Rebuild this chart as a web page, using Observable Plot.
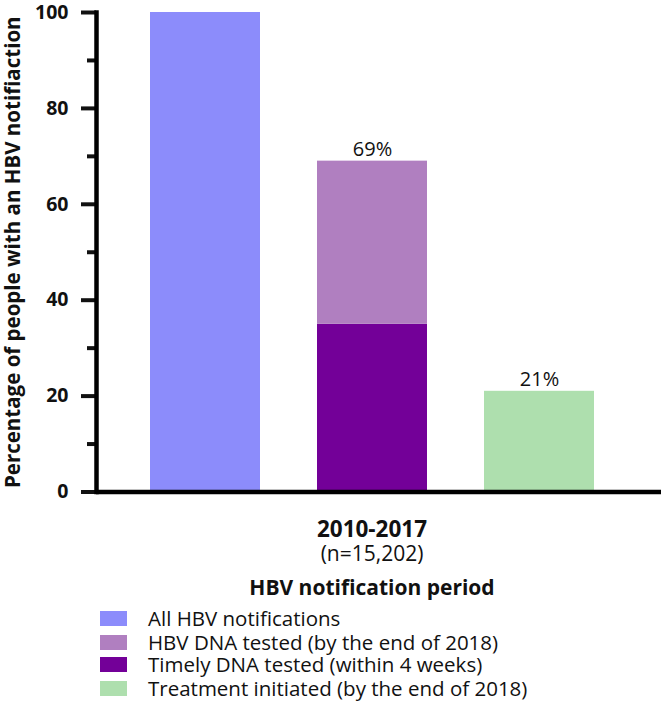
<!DOCTYPE html>
<html>
<head>
<meta charset="utf-8">
<script src="https://cdn.jsdelivr.net/npm/d3@7"></script>
<script src="https://cdn.jsdelivr.net/npm/@observablehq/plot@0.6"></script>
<style>
  body { margin: 0; background: #fff; font-family: "Open Sans", sans-serif; color: #111; }
  #wrap { position: relative; width: 661px; height: 704px; }
  svg { position: absolute; left: 0; top: 0; }
  .lab { position: absolute; left: 222px; width: 300px; text-align: center; white-space: nowrap; line-height: 1; }
  .leg { position: absolute; left: 100px; height: 20px; line-height: 20px; display: flex; align-items: center; font-size: 20.5px; white-space: nowrap; }
  .sw { width: 27px; height: 15px; margin-right: 21px; flex: none; }
</style>
</head>
<body>
<div id="wrap"></div>
<script>
const categories = [
  "All HBV notifications",
  "HBV DNA tested (by the end of 2018)",
  "Timely DNA tested (within 4 weeks)",
  "Treatment initiated (by the end of 2018)"
];
const colors = ["#8c8cfb", "#b07fc0", "#730098", "#aedfae"];
const bars = ["all", "dna", "treat"];
const segBar = ["all", "dna", "dna", "treat"];
const segSeries = [categories[0], categories[2], categories[1], categories[3]];
const segValues = [100, 35, 34, 21];
const labelBars = ["dna", "treat"];
const labelValues = [69, 21];
const labelTexts = ["69%", "21%"];
const yTicks = [0, 20, 40, 60, 80, 100];
const yMinor = [10, 30, 50, 70, 90];
const xTitle = "2010-2017";
const xSub = "(n=15,202)";
const xAxisTitle = "HBV notification period";
const yAxisTitle = "Percentage of people with an HBV notifiaction";

const segs = segValues.map((v, i) => ({bar: segBar[i], series: segSeries[i], value: v}));
const labels = labelValues.map((v, i) => ({bar: labelBars[i], value: v, text: labelTexts[i]}));

const plot = Plot.plot({
  width: 661,
  height: 512,
  marginLeft: 96,
  marginRight: 0,
  marginTop: 12,
  marginBottom: 20.5,
  style: {fontFamily: "'Open Sans', sans-serif", color: "#111", background: "transparent"},
  x: {domain: bars, range: [121.5, 623.5], paddingInner: 0.34, paddingOuter: 0.17, axis: null},
  y: {domain: [0, 100], label: null},
  color: {domain: categories, range: colors},
  marks: [
    Plot.barY(segs, {x: "bar", y: "value", fill: "series", order: null}),
    Plot.text(labels, {x: "bar", y: "value", text: "text", dy: -12, fontSize: 20, fill: "#111"}),
    Plot.axisY({ticks: yTicks, tickSize: 15, tickPadding: 13, strokeWidth: 4, fontSize: 19.5, fontWeight: "bold", tickFormat: d3.format("d"), label: null}),
    Plot.axisY({ticks: yMinor, tickSize: 9, strokeWidth: 4, text: null, label: null}),
    Plot.axisY({ticks: [], label: yAxisTitle, labelAnchor: "center", labelArrow: "none", labelOffset: 91, fontSize: 20.5, fontWeight: "bold"}),
    Plot.frame({anchor: "left", strokeWidth: 4.5, stroke: "#000"}),
    Plot.ruleY([0], {strokeWidth: 4.5, stroke: "#000"})
  ]
});

const wrap = document.getElementById("wrap");
wrap.appendChild(plot);

function addLab(text, top, size, bold) {
  const d = document.createElement("div");
  d.className = "lab";
  d.textContent = text;
  d.style.top = top + "px";
  d.style.fontSize = size + "px";
  d.style.fontWeight = bold ? "bold" : "normal";
  wrap.appendChild(d);
}
addLab(xTitle, 518, 22.5, true);
addLab(xSub, 543, 21, false);
addLab(xAxisTitle, 577, 21, true);

const legTops = [608, 632, 654, 678];
categories.forEach((c, i) => {
  const row = document.createElement("div");
  row.className = "leg";
  row.style.top = legTops[i] + "px";
  const sw = document.createElement("div");
  sw.className = "sw";
  sw.style.background = colors[i];
  row.appendChild(sw);
  const t = document.createElement("span");
  t.textContent = c;
  row.appendChild(t);
  wrap.appendChild(row);
});
</script>
</body>
</html>
